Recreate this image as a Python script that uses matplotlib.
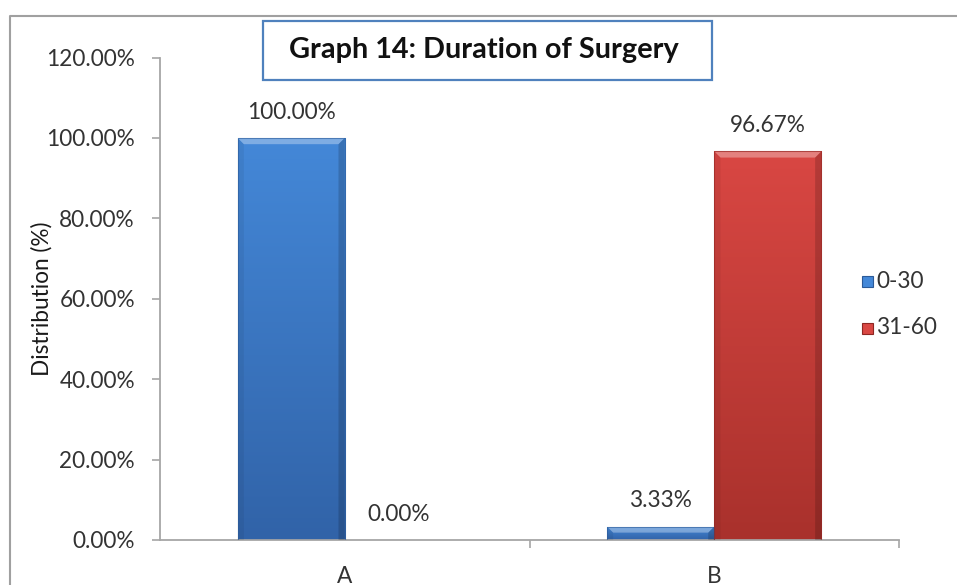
import numpy as np
import matplotlib
matplotlib.use("Agg")
import matplotlib.pyplot as plt
from matplotlib.patches import Rectangle, Polygon
from matplotlib.colors import LinearSegmentedColormap
from matplotlib.lines import Line2D

categories = ["A", "B"]
series_names = ["0-30", "31-60"]
values_030 = [100.00, 3.33]
values_3160 = [0.00, 96.67]
y_ticks = [0, 20, 40, 60, 80, 100, 120]

plt.rcParams["font.family"] = ["Lato", "DejaVu Sans"]

W, H = 957, 585
fig = plt.figure(figsize=(W / 100, H / 100), dpi=100)
fig.patch.set_facecolor("white")

ax = fig.add_axes([160 / W, 1 - 540 / H, (899 - 160) / W, (540 - 57.5) / H])
ax.set_facecolor("none")

x = np.arange(len(categories))
bar_w = 0.29
colors = {
    "0-30": ("#4488D8", "#3163A8", "#2B5A98"),
    "31-60": ("#D94743", "#A9312C", "#8E2723"),
}
TEXT = "#333333"
FS = 16.3


def draw_bar(ax, x0, width, height, top_col, bot_col, edge_col):
    if height <= 0:
        return
    rect = Rectangle((x0, 0), width, height, facecolor="none", edgecolor="none")
    ax.add_patch(rect)
    cmap = LinearSegmentedColormap.from_list("g", [bot_col, top_col])
    grad = np.linspace(0, 1, 256).reshape(-1, 1)
    im = ax.imshow(grad, cmap=cmap, aspect="auto", origin="lower",
                   extent=(x0, x0 + width, 0, height), zorder=2,
                   interpolation="bilinear")
    im.set_clip_path(rect)
    # bevel: light strip along the top, darker strips down the sides
    px = fig.dpi / 72.0
    b = 4.5  # bevel size in points
    (x1, y1) = ax.transData.transform((x0, height))
    (x2, _) = ax.transData.transform((x0 + width, height))
    ybot = ax.transData.transform((x0, 0))[1]
    d = min(b * px, (y1 - ybot) * 0.45)
    inv = ax.transData.inverted()
    top_poly = [inv.transform(p) for p in [(x1, y1), (x2, y1), (x2 - d, y1 - d), (x1 + d, y1 - d)]]
    ax.add_patch(Polygon(top_poly, closed=True, facecolor="white", alpha=0.32,
                         edgecolor="none", zorder=3))
    left_poly = [inv.transform(p) for p in [(x1, y1), (x1 + d, y1 - d), (x1 + d, ybot), (x1, ybot)]]
    right_poly = [inv.transform(p) for p in [(x2, y1), (x2 - d, y1 - d), (x2 - d, ybot), (x2, ybot)]]
    ax.add_patch(Polygon(left_poly, closed=True, facecolor="black", alpha=0.06,
                         edgecolor="none", zorder=3))
    ax.add_patch(Polygon(right_poly, closed=True, facecolor="black", alpha=0.16,
                         edgecolor="none", zorder=3))
    ax.add_patch(Rectangle((x0, 0), width, height, facecolor="none",
                           edgecolor=edge_col, linewidth=0.8, alpha=0.6, zorder=4))


ax.set_xlim(-0.5, 1.5)
ax.set_ylim(0, 120)

series = [("0-30", values_030, -1), ("31-60", values_3160, 0)]
for name, vals, shift in series:
    top_col, bot_col, edge_col = colors[name]
    for i, v in enumerate(vals):
        x0 = x[i] + shift * bar_w
        draw_bar(ax, x0, bar_w, v, top_col, bot_col, edge_col)
        ax.annotate(f"{v:.2f}%", (x0 + bar_w / 2, v), xytext=(0, 11),
                    textcoords="offset points", ha="center", va="bottom",
                    fontsize=FS, color=TEXT, zorder=5)

# axes styling
for s in ["top", "right"]:
    ax.spines[s].set_visible(False)
for s in ["left", "bottom"]:
    ax.spines[s].set_color("#A6A6A6")
    ax.spines[s].set_linewidth(1.3)
ax.set_yticks(y_ticks)
ax.set_yticklabels([f"{t:.2f}%" for t in y_ticks], fontsize=FS, color=TEXT)
ax.tick_params(axis="y", length=6, width=1.2, color="#A6A6A6", pad=12)
ax.set_xticks([0.5, 1.5])
ax.set_xticklabels(["", ""])
ax.tick_params(axis="x", length=6, width=1.2, color="#A6A6A6")
for i, c in enumerate(categories):
    ax.text(x[i], -0.053, c, transform=ax.get_xaxis_transform(), ha="center",
            va="top", fontsize=FS, color=TEXT)
ax.set_ylabel("Distribution (%)", fontsize=FS, color="#1a1a1a")
ax.yaxis.set_label_coords(-0.146, 0.5)

# title box
fig.text(484 / W, 1 - 50 / H, "Graph 14: Duration of Surgery", ha="center",
         va="center", fontsize=20.8, fontweight="bold", color="#111111")
fig.patches.append(Rectangle((263 / W, 1 - 80 / H), (712 - 263) / W, 59 / H,
                             transform=fig.transFigure, facecolor="none",
                             edgecolor="#4F81BD", linewidth=1.6))

# legend
for k, name in enumerate(series_names):
    yc = 1 - (281 + 47 * k) / H
    fig.patches.append(Rectangle((862 / W, yc - 5.5 / H), 11 / W, 11 / H,
                                 transform=fig.transFigure,
                                 facecolor=colors[name][0],
                                 edgecolor=colors[name][2], linewidth=0.8))
    fig.text(876 / W, yc, name, ha="left", va="center", fontsize=FS,
             color=TEXT)

# chart area frame
fig.lines.append(Line2D([10 / W, 10 / W, 1], [0, 1 - 16 / H, 1 - 16 / H],
                        transform=fig.transFigure, color="#A0A0A0", linewidth=1.5))

fig.savefig("out.png", dpi=100, facecolor="white")
